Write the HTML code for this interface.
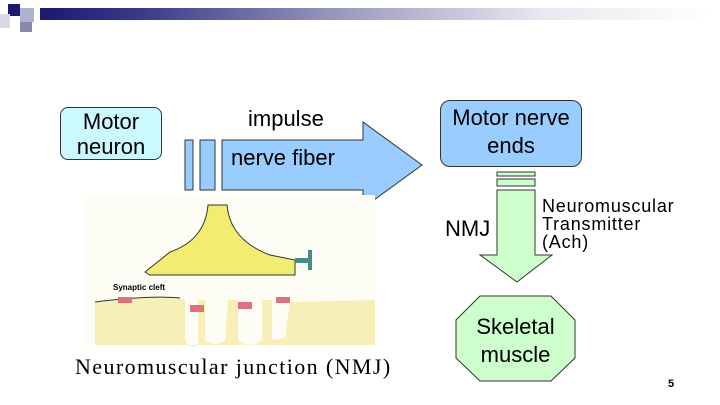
<!DOCTYPE html>
<html><head><style>
body{margin:0;width:720px;height:405px;background:#fff;position:relative;overflow:hidden;font-family:"Liberation Sans",sans-serif}
.a{position:absolute}
</style></head><body>
<div class="a" style="left:40px;top:8px;width:670px;height:12px;background:linear-gradient(90deg,#1a1a6e,#3a3a88 15%,#9a9ac0 45%,#e8e8f0 75%,#fff)"></div>
<div class="a" style="left:8px;top:4px;width:12px;height:12px;background:#1a1a6e"></div>
<div class="a" style="left:20px;top:8px;width:14px;height:14px;background:#b0b0d0"></div>
<div class="a" style="left:0px;top:14px;width:10px;height:14px;background:#d8d8e8"></div>
<div class="a" style="left:20px;top:22px;width:12px;height:10px;background:#8888b0"></div>
<div class="a" style="left:60px;top:107px;width:102px;height:53px;border:1px solid #333;border-radius:8px;background:#ccf8ff;font-size:22px;text-align:center;line-height:25px;box-sizing:border-box;padding-top:1px">Motor<br>neuron</div>
<svg class="a" style="left:0;top:0" width="720" height="405">
<rect x="185" y="140" width="8" height="50" fill="#99ccff" stroke="#333"/>
<rect x="200" y="140" width="15" height="50" fill="#99ccff" stroke="#333"/>
<polygon points="222,140 363,140 363,122 422,165 363,208 363,190 222,190" fill="#99ccff" stroke="#333"/>
<rect x="497" y="172" width="38" height="4" fill="#ccffcc" stroke="#333"/>
<rect x="497" y="179" width="38" height="7" fill="#ccffcc" stroke="#333"/>
<polygon points="497,190 535,190 535,255 552,255 517,282 480,255 497,255" fill="#ccffcc" stroke="#333"/>
<polygon points="480,296 551,296 575,320 575,358 551,381 480,381 456,358 456,320" fill="#ccffcc" stroke="#333"/>
<rect x="85" y="195" width="290" height="150" fill="#fdfdf6"/>
<path d="M95,302 Q150,295 180,298 L185,300 L185,340 Q190,350 198,345 L198,300 L200,300 L205,300 L205,340 Q215,348 225,340 L228,300 L238,300 L238,340 Q250,350 262,340 L262,300 L272,300 L272,340 L285,338 L290,302 L375,300 L375,345 L95,345 Z" fill="#f8efb8"/>
<path d="M95,302 Q150,295 180,298" fill="none" stroke="#333"/>
<path d="M145,272 L170,252 Q205,240 208,205 L227,205 Q230,240 270,255 L295,260 L295,275 L150,275 Z" fill="#f2ec70" stroke="#333"/>
<rect x="190" y="305" width="14" height="7" fill="#e07080"/>
<rect x="238" y="302" width="14" height="7" fill="#e07080"/>
<rect x="118" y="297" width="14" height="6" fill="#e07080"/>
<rect x="276" y="297" width="14" height="6" fill="#e07080"/>
<rect x="295" y="258" width="16" height="5" fill="#4a8a8a"/>
<rect x="308" y="250" width="4" height="20" fill="#4a8a8a"/>
<text x="113" y="290" font-size="8" font-weight="bold">Synaptic cleft</text>
</svg>
<div class="a" style="left:440px;top:100px;width:142px;height:67px;border:1px solid #333;border-radius:10px;background:#99ccff;box-sizing:border-box;font-size:22px;text-align:center;line-height:28px;padding-top:3px">Motor nerve<br>ends</div>
<div class="a" style="left:248px;top:106px;font-size:22px">impulse</div>
<div class="a" style="left:231px;top:145px;font-size:22px">nerve fiber</div>
<div class="a" style="left:445px;top:216px;font-size:22px">NMJ</div>
<div class="a" style="left:542px;top:197px;font-size:18px;line-height:18px;letter-spacing:0.8px">Neuromuscular<br>Transmitter<br>(Ach)</div>
<div class="a" style="left:456px;top:313px;width:119px;text-align:center;font-size:22px;line-height:28px">Skeletal<br>muscle</div>
<div class="a" style="left:75px;top:354px;font-family:'Liberation Serif',serif;font-size:22px;letter-spacing:1.4px">Neuromuscular junction (NMJ)</div>
<div class="a" style="left:668px;top:378px;font-size:11px;font-weight:bold">5</div>
</body></html>
